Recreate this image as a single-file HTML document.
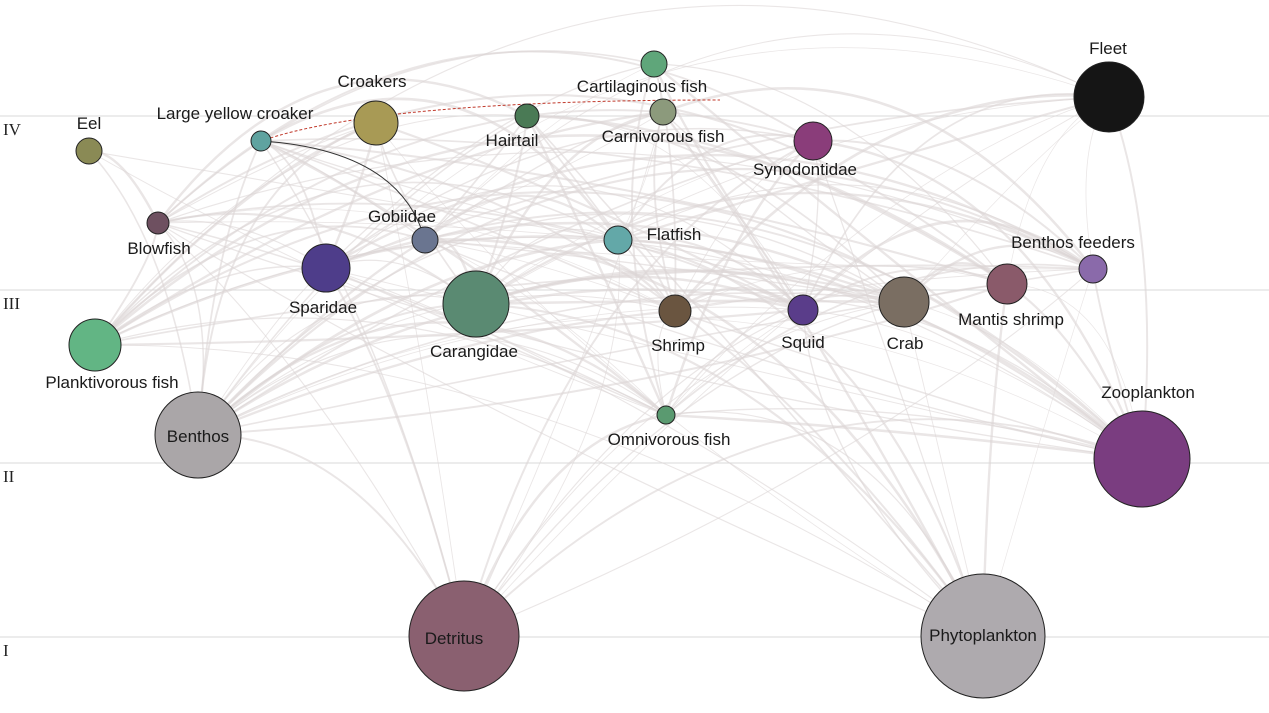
<!DOCTYPE html>
<html><head><meta charset="utf-8"><style>
html,body{margin:0;padding:0;background:#fff;}
svg{display:block;font-family:"Liberation Sans",Arial,sans-serif;}
</style></head><body>
<svg id="s" width="1269" height="713" viewBox="0 0 1269 713" xmlns="http://www.w3.org/2000/svg">
<rect width="1269" height="713" fill="#fff"/>
<g stroke="#d9d9d9" stroke-width="1">
<line x1="0" y1="116" x2="1269" y2="116"/>
<line x1="0" y1="290" x2="1269" y2="290"/>
<line x1="0" y1="463" x2="1269" y2="463"/>
<line x1="0" y1="637" x2="1269" y2="637"/>
</g>
<g font-family="Liberation Serif,serif" font-size="17" fill="#222">
<text x="3" y="135">IV</text><text x="3" y="309">III</text><text x="3" y="482">II</text><text x="3" y="656">I</text>
</g>
<g id="edges" fill="none" stroke="#dcd5d5" stroke-opacity="0.6"></g>
<path d="M261 141 Q 380 100 720 100" stroke="#c0392b" stroke-width="1" stroke-dasharray="3,2" fill="none"/>
<path d="M261 141 Q 400 150 425 240" stroke="#333" stroke-width="1" fill="none"/>
<g id="nodes" stroke="#222" stroke-width="1"></g>
<g font-size="17" fill="#1a1a1a" text-anchor="middle">
<text x="1108" y="54">Fleet</text>
<text x="642" y="92">Cartilaginous fish</text>
<text x="372" y="87">Croakers</text>
<text x="235" y="119">Large yellow croaker</text>
<text x="512" y="146">Hairtail</text>
<text x="663" y="142">Carnivorous fish</text>
<text x="805" y="175">Synodontidae</text>
<text x="89" y="129">Eel</text>
<text x="159" y="254">Blowfish</text>
<text x="402" y="222">Gobiidae</text>
<text x="674" y="240">Flatfish</text>
<text x="1073" y="248">Benthos feeders</text>
<text x="323" y="313">Sparidae</text>
<text x="474" y="357">Carangidae</text>
<text x="678" y="351">Shrimp</text>
<text x="803" y="348">Squid</text>
<text x="905" y="349">Crab</text>
<text x="1011" y="325">Mantis shrimp</text>
<text x="112" y="388">Planktivorous fish</text>
<text x="198" y="442">Benthos</text>
<text x="669" y="445">Omnivorous fish</text>
<text x="1148" y="398">Zooplankton</text>
<text x="454" y="644">Detritus</text>
<text x="983" y="641">Phytoplankton</text>
</g>
</svg>
<script>
var N={
fleet:[1109,97,35,"#151515"],cart:[654,64,13,"#5fa67a"],croak:[376,123,22,"#a89a55"],lyc:[261,141,10,"#5fa3a0"],
hair:[527,116,12,"#4a7a55"],carn:[663,112,13,"#8c9a7c"],syn:[813,141,19,"#8a3d7a"],eel:[89,151,13,"#8a8a55"],
blow:[158,223,11,"#6e5060"],gob:[425,240,13,"#6a7590"],flat:[618,240,14,"#63a8a8"],bf:[1093,269,14,"#8a6aaa"],
spar:[326,268,24,"#4e3d8a"],cara:[476,304,33,"#5a8a72"],shr:[675,311,16,"#6a5540"],squ:[803,310,15,"#5a3d8a"],
crab:[904,302,25,"#7a6e62"],mant:[1007,284,20,"#8a5a6a"],plank:[95,345,26,"#62b584"],ben:[198,435,43,"#aaa6a8"],
omn:[666,415,9,"#5a9a70"],zoo:[1142,459,48,"#7a3d80"],det:[464,636,55,"#8a6070"],phy:[983,636,62,"#aeaaae"]};
var ns="http://www.w3.org/2000/svg",E=document.getElementById("edges"),G=document.getElementById("nodes");
var low=["det","phy","zoo","ben","omn","plank","shr","crab","squ","mant","cara","spar","bf","flat","gob","blow"];
var high=["fleet","cart","croak","lyc","hair","carn","syn","eel","blow","gob","flat","bf","spar","cara","shr","squ","crab","mant","plank","omn","zoo","ben"];
var seed=7;function r(){seed=(seed*9301+49297)%233280;return seed/233280;}
low.forEach(function(a){high.forEach(function(b){if(a==b)return;var A=N[a],B=N[b];if(B[1]>=A[1]+5&&b!="zoo"&&b!="ben")return;
if(r()<0.3)return;var mx=(A[0]+B[0])/2,my=(A[1]+B[1])/2,dx=B[0]-A[0],dy=B[1]-A[1];var k=(r()-0.5)*0.5;
var p=document.createElementNS(ns,"path");p.setAttribute("d","M"+A[0]+" "+A[1]+" Q"+(mx-dy*k)+" "+(my+dx*k-Math.abs(dx)*0.15-30)+" "+B[0]+" "+B[1]);
p.setAttribute("stroke-width",(0.7+r()*2).toFixed(1));E.appendChild(p);});});
for(var k in N){var c=document.createElementNS(ns,"circle"),n=N[k];c.setAttribute("cx",n[0]);c.setAttribute("cy",n[1]);c.setAttribute("r",n[2]);c.setAttribute("fill",n[3]);G.appendChild(c);}
</script>
</body></html>
